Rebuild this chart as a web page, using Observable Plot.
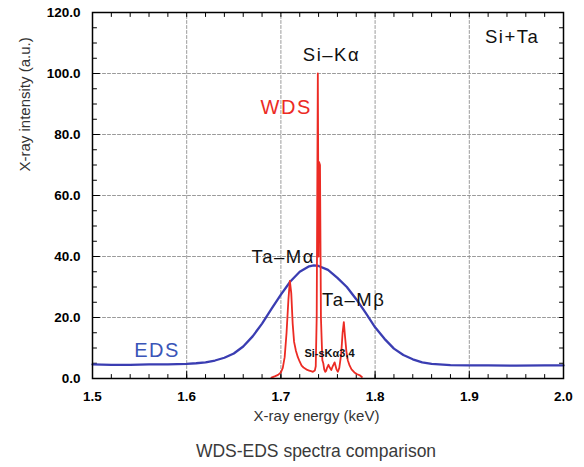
<!DOCTYPE html>
<html>
<head>
<meta charset="utf-8">
<script src="https://cdn.jsdelivr.net/npm/d3@7"></script>
<script src="https://cdn.jsdelivr.net/npm/@observablehq/plot@0.6"></script>
<style>
  html, body { margin: 0; padding: 0; background: #fff; }
  #wrap { width: 584px; height: 467px; font-family: "Liberation Sans", Arial, sans-serif; }
  #caption { height: 31px; line-height: 31px; padding-left: 48px; text-align: center; font-size: 17.5px; color: #3a3a3a; }
</style>
</head>
<body>
<div id="wrap"><div id="chart"></div><div id="caption">WDS-EDS spectra comparison</div></div>
<script>
// EDS spectrum (blue), energy keV / intensity a.u.
const edsE = [1.500,1.520,1.540,1.560,1.580,1.600,1.610,1.620,1.630,1.640,1.650,1.660,1.670,1.680,1.690,1.700,1.710,1.720,1.730,1.735,1.740,1.750,1.760,1.770,1.780,1.790,1.800,1.810,1.820,1.830,1.840,1.850,1.860,1.880,1.900,1.920,1.950,1.980,2.000];
const edsV = [4.6,4.5,4.5,4.6,4.6,4.8,5.0,5.3,5.9,6.8,8.2,10.5,13.8,18.0,22.8,27.5,31.8,35.0,36.8,37.1,36.9,35.6,33.0,30.0,26.0,21.5,16.8,13.0,9.8,7.7,6.3,5.3,4.8,4.4,4.3,4.3,4.2,4.3,4.3];

// WDS spectrum (red)
const wdsE = [1.690,1.694,1.697,1.700,1.702,1.704,1.706,1.708,1.7095,1.711,1.7125,1.714,1.716,1.718,1.720,1.722,1.724,1.726,1.728,1.730,1.732,1.734,1.736,1.737,1.738,1.7392,1.7400,1.7405,1.7415,1.7425,1.744,1.745,1.746,1.747,1.748,1.749,1.7505,1.752,1.7535,1.755,1.757,1.759,1.7605,1.762,1.764,1.7655,1.7668,1.768,1.7695,1.771,1.773,1.775,1.778,1.781,1.784,1.786];
const wdsV = [0.3,0.8,1.2,2.0,3.5,7,15,26,32,28,18,12,9,7,5.5,4.2,3.6,3.2,2.8,2.6,2.4,2.2,2.6,4,20,100,40,71,70,20,6,5,3,2.2,2.5,3.5,4.5,3.5,2.8,4,5.3,3,2.2,3.5,8,15,18.5,14,9,6,4.2,3,2,1.4,1,0.5];

// Axis ticks
const xMajor = [1.5,1.6,1.7,1.8,1.9,2.0];
const xGrid = [1.6,1.7,1.8,1.9];
const yMajor = [0,20,40,60,80,100,120];
const yGrid = [20,40,60,80,100];
const xMinorStep = 0.02;
const yMinorStep = 5;

// Annotations
const blackLabels = ["Si–Kα","Ta–Mα","Ta–Mβ","Si+Ta"];
const blackX = [1.7537,1.7024,1.7773,1.9454];
const blackY = [106,39.7,25.6,111.8];
const smallLabel = ["Si-sKα3,4"];
const smallX = [1.7516];
const smallY = [8.2];
const seriesNames = ["WDS","EDS"];
const seriesColors = ["#ec2b24","#3a55b8"];
const seriesX = [1.7056,1.5685];
const seriesY = [88.9,9.2];

const W = 584, H = 436, mT = 12, mR = 21, mB = 58, mL = 92;
const xDom = [1.5, 2.0], yDom = [0, 120];
const eds = edsE.map((e,i)=>({e, v: edsV[i]}));
const wds = wdsE.map((e,i)=>({e, v: wdsV[i]}));
const xMinor = d3.range(xDom[0], xDom[1] + 1e-9, xMinorStep);
const yMinor = d3.range(yDom[0], yDom[1] + 1e-9, yMinorStep);
const fmt = d => d.toFixed(1);
// tick lengths in pixels, converted to data units (inward ticks)
const yPerPx = (yDom[1]-yDom[0]) / (H - mT - mB);
const xPerPx = (xDom[1]-xDom[0]) / (W - mL - mR);
const minorPx = 4, majorPx = 7;

// segments built from the tick arrays, drawn as line marks (one path per segment)
const vSeg = (vals, y1, y2, tag) => vals.flatMap(v => [{x: v, y: y1, k: tag + v}, {x: v, y: y2, k: tag + v}]);
const hSeg = (vals, x1, x2, tag) => vals.flatMap(v => [{x: x1, y: v, k: tag + v}, {x: x2, y: v, k: tag + v}]);
const gridSegs = [...vSeg(xGrid, yDom[0], yDom[1], "gx"), ...hSeg(yGrid, xDom[0], xDom[1], "gy")];
const tickSegs = [
  ...vSeg(xMinor, yDom[0], yDom[0] + minorPx*yPerPx, "xb"),
  ...vSeg(xMinor, yDom[1], yDom[1] - minorPx*yPerPx, "xt"),
  ...hSeg(yMinor, xDom[0], xDom[0] + minorPx*xPerPx, "yl"),
  ...hSeg(yMinor, xDom[1], xDom[1] - minorPx*xPerPx, "yr"),
  ...vSeg(xMajor, yDom[0], yDom[0] + majorPx*yPerPx, "XB"),
  ...hSeg(yMajor, xDom[0], xDom[0] + majorPx*xPerPx, "YL")
];

const chart = Plot.plot({
  width: W, height: H,
  marginTop: mT, marginRight: mR, marginBottom: mB, marginLeft: mL,
  style: {fontFamily: "'Liberation Sans', Arial, sans-serif", fontSize: "13.5px", background: "#fff", color: "#000"},
  x: {domain: xDom, ticks: xMajor, tickSize: 0, tickPadding: 13, tickFormat: fmt, label: null},
  y: {domain: yDom, ticks: yMajor, tickSize: 0, tickPadding: 12, tickFormat: fmt, label: null},
  marks: [
    Plot.line(gridSegs, {x: "x", y: "y", z: "k", stroke: "#8f8f8f", strokeWidth: 0.9, strokeDasharray: "3,2"}),
    Plot.line(tickSegs, {x: "x", y: "y", z: "k", stroke: "#000", strokeWidth: 1}),
    Plot.line(eds, {x: "e", y: "v", stroke: "#3a3db2", strokeWidth: 2.3}),
    Plot.line(wds, {x: "e", y: "v", stroke: "#ec2b24", strokeWidth: 1.8}),
    Plot.frame({stroke: "#000", strokeWidth: 1.5}),
    Plot.text(blackLabels, {x: (d,i) => blackX[i], y: (d,i) => blackY[i], text: d => d, fontSize: 18.5, fill: "#111"}),
    Plot.text(smallLabel, {x: (d,i) => smallX[i], y: (d,i) => smallY[i], text: d => d, fontSize: 11, fontWeight: "bold", fill: "#111"}),
    Plot.text(seriesNames, {x: (d,i) => seriesX[i], y: (d,i) => seriesY[i], text: d => d, fontSize: 20, fill: (d,i) => seriesColors[i]}),
    Plot.text(["X-ray energy (keV)"], {frameAnchor: "bottom", dy: 42, dx: -11.5, fontSize: 15, fill: "#333"}),
    Plot.text(["X-ray intensity (a.u.)"], {frameAnchor: "left", dx: -67, dy: -24, rotate: -90, fontSize: 15, fill: "#333"})
  ]
});
d3.select(chart).selectAll("g[aria-label$='tick label'] text").attr("font-weight", "bold");
d3.select(chart).selectAll("text").filter(function(){ return blackLabels.includes(this.textContent) || seriesNames.includes(this.textContent); }).style("letter-spacing", "1.5px");
document.getElementById("chart").appendChild(chart);
</script>
</body>
</html>
